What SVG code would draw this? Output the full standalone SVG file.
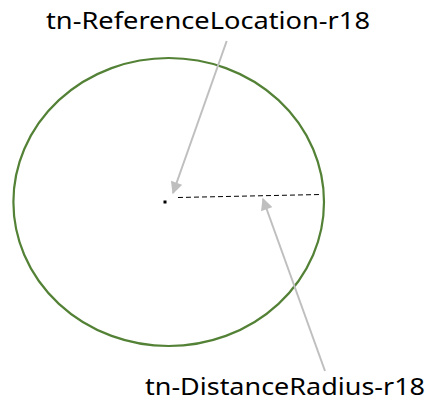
<svg xmlns="http://www.w3.org/2000/svg" width="431" height="408" viewBox="0 0 431 408">
<defs>
<style>
.lbl{font-family:"Noto Sans","DejaVu Sans",sans-serif;font-size:23.5px;fill:#000;text-anchor:middle}
.arr{stroke:#bfbfbf;stroke-width:2;fill:none}
</style>
<marker id="ah" viewBox="0 0 10 10" refX="9" refY="5" markerWidth="7" markerHeight="6" orient="auto" markerUnits="strokeWidth">
<path d="M0,0 L10,5 L0,10 z" fill="#bfbfbf"/>
</marker>
</defs>
<rect width="431" height="408" fill="#fff"/>
<g id="area">
<ellipse cx="168.7" cy="202" rx="155.3" ry="144" fill="none" stroke="#538135" stroke-width="2.2"/>
</g>
<g id="refloc">
<rect x="163.5" y="200.5" width="3" height="3" fill="#000"/>
</g>
<g id="radius">
<line x1="178" y1="197.5" x2="321" y2="194.5" stroke="#000" stroke-width="1" stroke-dasharray="5,3"/>
</g>
<g id="label-ref">
<text class="lbl" x="208" y="29" textLength="324" lengthAdjust="spacingAndGlyphs">tn-ReferenceLocation-r18</text>
</g>
<g id="label-radius">
<text class="lbl" x="285" y="395" textLength="280" lengthAdjust="spacingAndGlyphs">tn-DistanceRadius-r18</text>
</g>
<g id="connectors">
<line class="arr" x1="226.7" y1="41" x2="173" y2="193" marker-end="url(#ah)"/>
<line class="arr" x1="325" y1="371" x2="263" y2="199" marker-end="url(#ah)"/>
</g>
</svg>
